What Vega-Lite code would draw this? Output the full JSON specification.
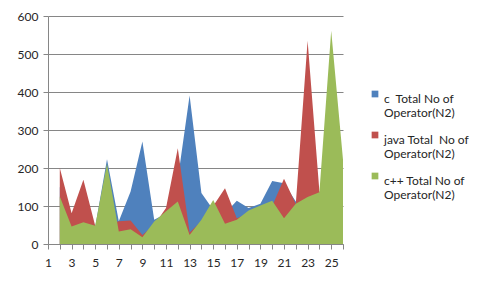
{
  "$schema": "https://vega.github.io/schema/vega-lite/v6.json",
  "autosize": "none",
  "width": 295,
  "height": 228,
  "padding": {"left": 48, "top": 16, "right": 137, "bottom": 45},
  "background": "white",
  "config": {
    "view": {"stroke": null},
    "font": "Lato",
    "axis": {"labelFont": "Lato", "labelFontSize": 12, "labelColor": "#262626", "domainColor": "#868686", "tickColor": "#868686", "gridColor": "#868686", "titleFontSize": 0}
  },
  "data": {
    "values": [
      {"x": 2, "s": "c", "v": 150}, {"x": 3, "s": "c", "v": 70}, {"x": 4, "s": "c", "v": 120}, {"x": 5, "s": "c", "v": 45},
      {"x": 6, "s": "c", "v": 223}, {"x": 7, "s": "c", "v": 60}, {"x": 8, "s": "c", "v": 138}, {"x": 9, "s": "c", "v": 270},
      {"x": 10, "s": "c", "v": 64}, {"x": 11, "s": "c", "v": 80}, {"x": 12, "s": "c", "v": 170}, {"x": 13, "s": "c", "v": 391},
      {"x": 14, "s": "c", "v": 134}, {"x": 15, "s": "c", "v": 90}, {"x": 16, "s": "c", "v": 80}, {"x": 17, "s": "c", "v": 114},
      {"x": 18, "s": "c", "v": 95}, {"x": 19, "s": "c", "v": 106}, {"x": 20, "s": "c", "v": 166}, {"x": 21, "s": "c", "v": 160},
      {"x": 22, "s": "c", "v": 112}, {"x": 23, "s": "c", "v": 100}, {"x": 24, "s": "c", "v": 100}, {"x": 25, "s": "c", "v": 120},
      {"x": 26, "s": "c", "v": 100},
      {"x": 2, "s": "java", "v": 200}, {"x": 3, "s": "java", "v": 81}, {"x": 4, "s": "java", "v": 169}, {"x": 5, "s": "java", "v": 48},
      {"x": 6, "s": "java", "v": 50}, {"x": 7, "s": "java", "v": 60}, {"x": 8, "s": "java", "v": 62}, {"x": 9, "s": "java", "v": 24},
      {"x": 10, "s": "java", "v": 50}, {"x": 11, "s": "java", "v": 95}, {"x": 12, "s": "java", "v": 252}, {"x": 13, "s": "java", "v": 30},
      {"x": 14, "s": "java", "v": 60}, {"x": 15, "s": "java", "v": 100}, {"x": 16, "s": "java", "v": 147}, {"x": 17, "s": "java", "v": 68},
      {"x": 18, "s": "java", "v": 80}, {"x": 19, "s": "java", "v": 95}, {"x": 20, "s": "java", "v": 100}, {"x": 21, "s": "java", "v": 172},
      {"x": 22, "s": "java", "v": 105}, {"x": 23, "s": "java", "v": 535}, {"x": 24, "s": "java", "v": 138}, {"x": 25, "s": "java", "v": 120},
      {"x": 26, "s": "java", "v": 100},
      {"x": 2, "s": "cpp", "v": 125}, {"x": 3, "s": "cpp", "v": 46}, {"x": 4, "s": "cpp", "v": 57}, {"x": 5, "s": "cpp", "v": 48},
      {"x": 6, "s": "cpp", "v": 211}, {"x": 7, "s": "cpp", "v": 33}, {"x": 8, "s": "cpp", "v": 39}, {"x": 9, "s": "cpp", "v": 18},
      {"x": 10, "s": "cpp", "v": 59}, {"x": 11, "s": "cpp", "v": 86}, {"x": 12, "s": "cpp", "v": 112}, {"x": 13, "s": "cpp", "v": 24},
      {"x": 14, "s": "cpp", "v": 64}, {"x": 15, "s": "cpp", "v": 116}, {"x": 16, "s": "cpp", "v": 53}, {"x": 17, "s": "cpp", "v": 64},
      {"x": 18, "s": "cpp", "v": 88}, {"x": 19, "s": "cpp", "v": 101}, {"x": 20, "s": "cpp", "v": 114}, {"x": 21, "s": "cpp", "v": 68},
      {"x": 22, "s": "cpp", "v": 106}, {"x": 23, "s": "cpp", "v": 124}, {"x": 24, "s": "cpp", "v": 136}, {"x": 25, "s": "cpp", "v": 561},
      {"x": 26, "s": "cpp", "v": 222}
    ]
  },
  "encoding": {
    "x": {
      "field": "x", "type": "quantitative",
      "scale": {"domain": [1, 26], "nice": false, "zero": false},
      "axis": {"values": [1,2,3,4,5,6,7,8,9,10,11,12,13,14,15,16,17,18,19,20,21,22,23,24,25,26], "labelExpr": "datum.value % 2 == 1 ? datum.label : ''", "grid": false, "tickSize": 5, "labelPadding": 8, "title": null, "labelFlush": false}
    },
    "y": {
      "field": "v", "type": "quantitative", "stack": null,
      "scale": {"domain": [0, 600], "nice": false},
      "axis": {"values": [0,100,200,300,400,500,600], "tickSize": 5, "labelPadding": 5, "title": null, "gridWidth": 1, "domain": true}
    },
    "color": {
      "field": "s", "type": "nominal",
      "scale": {"domain": ["c", "java", "cpp"], "range": ["#4F81BD", "#C0504D", "#9BBB59"]},
      "legend": {
        "title": null, "orient": "none", "legendX": 321, "legendY": 72,
        "labelExpr": "datum.value == 'c' ? ['c\u00a0\u00a0Total No of', 'Operator(N2)'] : datum.value == 'java' ? ['java Total\u00a0 No of', 'Operator(N2)'] : ['c++ Total No of', 'Operator(N2)']",
        "labelFont": "Lato", "labelFontSize": 12, "labelColor": "#262626", "labelBaseline": "top", "labelOffset": 3,
        "symbolType": "square", "symbolSize": 45, "symbolStrokeWidth": 0, "symbolOpacity": 1,
        "rowPadding": 10
      }
    }
  },
  "layer": [
    {"transform": [{"filter": "datum.s == 'c'"}], "mark": {"type": "area", "opacity": 1}},
    {"transform": [{"filter": "datum.s == 'java'"}], "mark": {"type": "area", "opacity": 1}},
    {"transform": [{"filter": "datum.s == 'cpp'"}], "mark": {"type": "area", "opacity": 1}}
  ]
}
